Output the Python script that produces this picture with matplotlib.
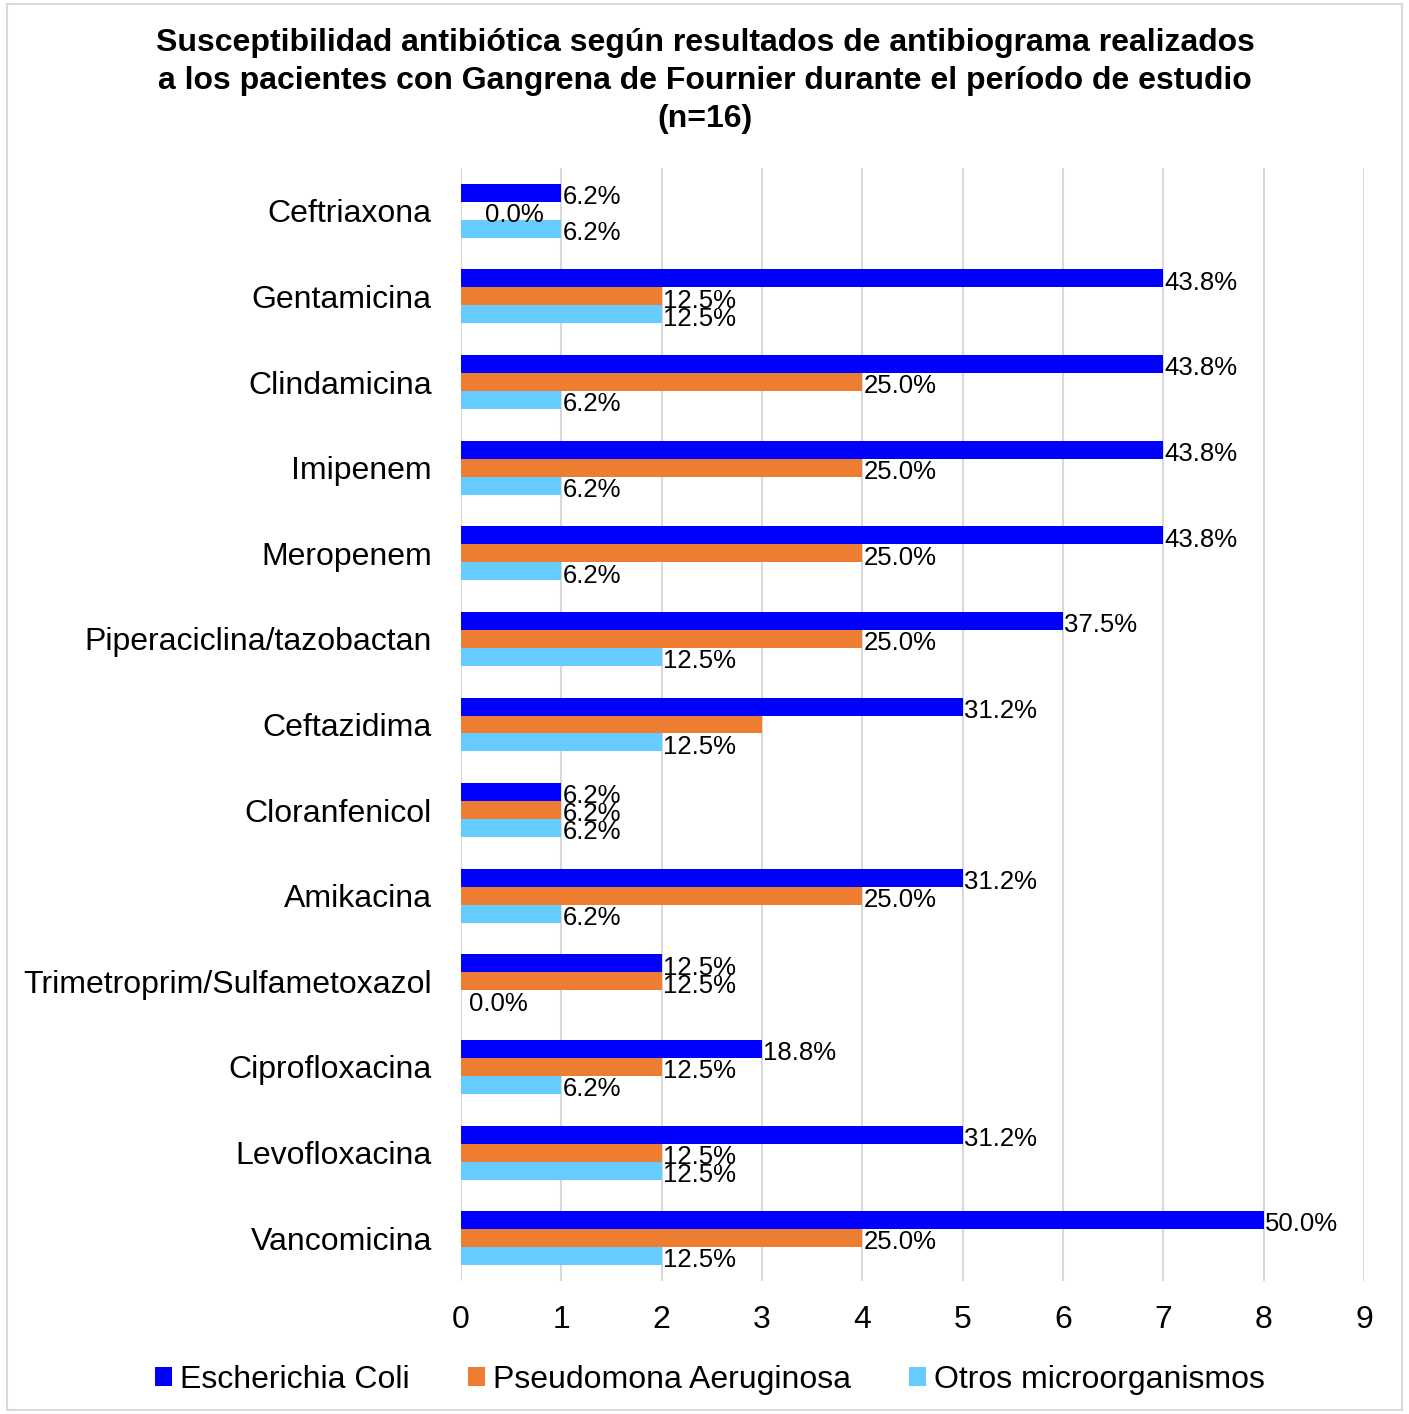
import matplotlib
matplotlib.use("Agg")
import matplotlib.pyplot as plt
import numpy as np
from matplotlib.patches import Rectangle

plt.rcParams['font.family'] = ['Liberation Sans', 'DejaVu Sans']

categories = ["Ceftriaxona", "Gentamicina", "Clindamicina", "Imipenem", "Meropenem",
              "Piperaciclina/tazobactan", "Ceftazidima", "Cloranfenicol", "Amikacina",
              "Trimetroprim/Sulfametoxazol", "Ciprofloxacina", "Levofloxacina", "Vancomicina"]
series_names = ["Escherichia Coli", "Pseudomona Aeruginosa", "Otros microorganismos"]
ecoli = [1, 7, 7, 7, 7, 6, 5, 1, 5, 2, 3, 5, 8]
pseudo = [0, 2, 4, 4, 4, 4, 3, 1, 4, 2, 2, 2, 4]
otros = [1, 2, 1, 1, 1, 2, 2, 1, 1, 0, 1, 2, 2]
ecoli_lbl = ["6.2%", "43.8%", "43.8%", "43.8%", "43.8%", "37.5%", "31.2%", "6.2%", "31.2%", "12.5%", "18.8%", "31.2%", "50.0%"]
pseudo_lbl = ["0.0%", "12.5%", "25.0%", "25.0%", "25.0%", "25.0%", "", "6.2%", "25.0%", "12.5%", "12.5%", "12.5%", "25.0%"]
otros_lbl = ["6.2%", "12.5%", "6.2%", "6.2%", "6.2%", "12.5%", "12.5%", "6.2%", "6.2%", "0.0%", "6.2%", "12.5%", "12.5%"]
colors = ["#0000FF", "#ED7D31", "#66CCFF"]
title = ("Susceptibilidad antibiótica según resultados de antibiograma realizados\n"
         "a los pacientes con Gangrena de Fournier durante el período de estudio\n(n=16)")

W, H = 1409, 1414
fig = plt.figure(figsize=(W / 100, H / 100), dpi=100)
fig.patches.append(Rectangle((7 / W, 4 / H), 1395 / W, 1406 / H, transform=fig.transFigure,
                             fill=False, edgecolor="#D9D9D9", linewidth=1.5))

ax = fig.add_axes([461 / W, 1 - 1281 / H, (1364 - 461) / W, (1281 - 168) / H])
y = np.arange(len(categories))
bh = 0.21
all_vals = [ecoli, pseudo, otros]
all_lbls = [ecoli_lbl, pseudo_lbl, otros_lbl]
for k, (vals, lbls, col, name) in enumerate(zip(all_vals, all_lbls, colors, series_names)):
    pos = y + (k - 1) * bh
    ax.barh(pos, vals, height=bh, color=col, label=name, zorder=3)
    for yi, v, t in zip(pos, vals, lbls):
        if not t:
            continue
        if v == 0:
            xx = 0.24 if k == 1 else 0.08
            ax.text(xx, yi + 0.05, t, ha="left", va="center", fontsize=18.5, zorder=4)
        else:
            ax.text(v + 0.01, yi + 0.05, t, ha="left", va="center", fontsize=18.5, zorder=4)

ax.set_xlim(0, 9)
ax.set_ylim(len(categories) - 0.5, -0.5)
ax.set_xticks(range(10))
ax.set_yticks(y)
ax.set_yticklabels(categories, fontsize=23)
ax.tick_params(axis="x", labelsize=23, length=0, pad=17)
ax.tick_params(axis="y", length=0, pad=21)
ax.grid(axis="x", color="#D9D9D9", linewidth=1.5, zorder=0)
for s in ax.spines.values():
    s.set_visible(False)

fig.text(705 / W, 1 - 81 / H, title, ha="center", va="center", fontsize=23.0,
         fontweight="bold", linespacing=1.33)

leg = fig.legend(loc="center", bbox_to_anchor=(710 / W, 1 - 1380 / H), ncol=3, frameon=False,
                 fontsize=23, handlelength=0.55, handleheight=0.55, handletextpad=0.25,
                 columnspacing=1.8)

fig.savefig("out.png", dpi=100, facecolor="white")
